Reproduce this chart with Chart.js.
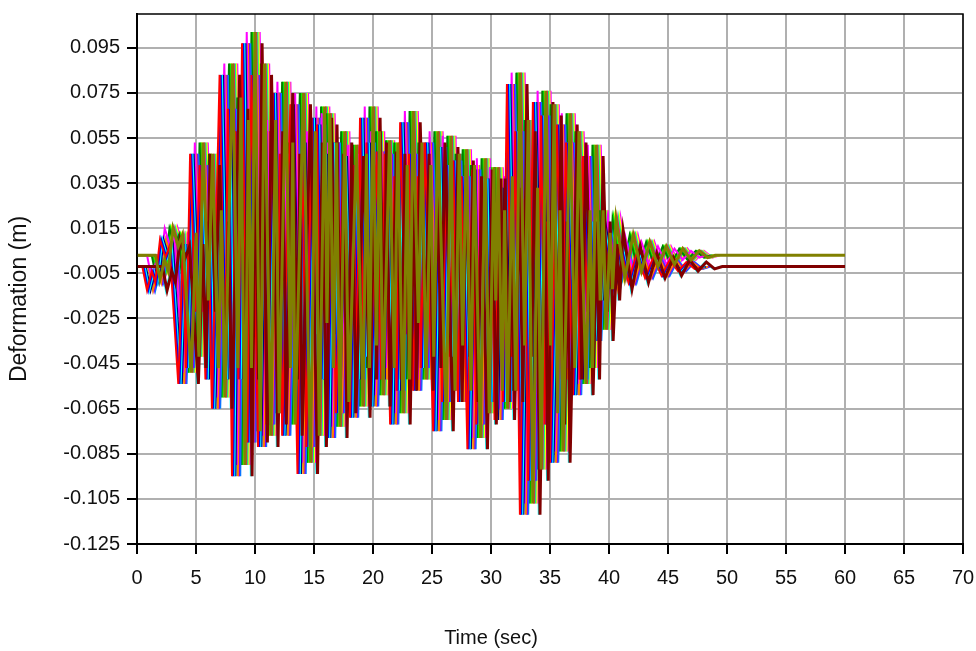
<!DOCTYPE html>
<html>
<head>
<meta charset="utf-8">
<title>Deformation time history</title>
<script src="https://cdn.jsdelivr.net/npm/chart.js@4.4.1/dist/chart.umd.min.js"></script>
<style>
  html, body { margin: 0; padding: 0; background: #ffffff; }
  canvas { display: block; }
</style>
</head>
<body>
<canvas id="chart" width="976" height="651"></canvas>
<script>
// Axis tick values
const timeTicks = [0, 5, 10, 15, 20, 25, 30, 35, 40, 45, 50, 55, 60, 65, 70];
const deformationTicks = [-0.125, -0.105, -0.085, -0.065, -0.045, -0.025, -0.005, 0.015, 0.035, 0.055, 0.075, 0.095];

// Recorded response of the first element: turning points (time in s, deformation in m)
const responseTime = [
  0, 0.45, 0.85, 1.25, 1.55, 1.95, 2.4, 2.75, 3.5, 3.9,
  4.15, 4.5, 4.95, 5.3, 5.8, 6.05, 6.35, 7.0, 7.45, 7.7,
  8.05, 8.35, 8.6, 8.9, 9.35, 9.7, 10.25, 10.65, 10.95, 11.5,
  11.9, 12.1, 12.3, 13.0, 13.6, 14.0, 14.35, 14.8, 15.0, 15.25,
  15.55, 15.8, 16.1, 16.5, 16.85, 17.5, 18.05, 18.35, 18.6, 18.9,
  19.2, 19.45, 19.75, 20.3, 20.7, 21.0, 21.45, 21.8, 22.0, 22.3,
  22.75, 23.05, 23.4, 23.8, 24.05, 24.4, 25.1, 25.5, 25.85, 26.2,
  26.5, 26.8, 27.2, 27.5, 28.0, 28.4, 28.75, 29.15, 29.3, 29.5,
  29.85, 30.05, 30.3, 30.7, 31.0, 31.35, 31.75, 32.05, 32.45, 32.85,
  33.15, 33.55, 33.95, 34.25, 34.55, 34.75, 35.0, 35.6, 36.0, 36.35,
  36.95, 37.3, 37.5, 37.8, 38.15, 38.4, 38.65, 39.0, 39.2, 39.5,
  40.25, 40.95, 41.65, 42.35, 43.05, 43.75, 44.45, 45.15, 45.85, 46.55,
  47.25, 47.9
];
const responseValue = [
  0, 0, -0.0105, -0.002, -0.007, 0.012, 0.004, 0.009, -0.052, 0.010,
  -0.045, 0.050, -0.020, 0.045, -0.050, 0.020, -0.063, 0.085, -0.050, 0.070,
  -0.093, 0.060, -0.050, 0.099, -0.078, 0.085, -0.080, 0.060, -0.070, 0.077,
  -0.050, 0.050, -0.075, 0.072, -0.092, 0.055, -0.080, 0.066, -0.030, 0.063,
  -0.050, 0.050, -0.076, 0.055, -0.065, 0.049, -0.067, 0.045, -0.050, 0.066,
  -0.040, 0.055, -0.062, 0.051, -0.050, 0.050, -0.070, 0.040, -0.055, 0.064,
  -0.030, 0.050, -0.055, 0.040, -0.045, 0.055, -0.073, 0.053, -0.060, 0.045,
  -0.040, 0.047, -0.060, 0.040, -0.081, 0.043, -0.070, 0.039, -0.020, 0.039,
  -0.060, 0.020, -0.068, 0.035, -0.060, 0.081, -0.040, 0.060, -0.110, 0.030,
  -0.095, 0.073, -0.040, 0.067, -0.070, 0.020, -0.087, 0.063, -0.050, 0.055,
  -0.057, 0.020, -0.050, 0.049, -0.020, 0.020, -0.033, 0.010, -0.015, 0.016,
  -0.010, 0.009, -0.007, 0.006, -0.005, 0.004, -0.004, 0.003, -0.002, 0.002,
  -0.001, 0
];

// Elements: arrival lag (s), static offset (m), record end (s, null = end of response), colour
const elementLag    = [0, 0.1, 0.2, 0.3, 0.4, 0.5, 0.6, 0.7, 0.8, 0.9, 1.0, 1.1, 1.2, 1.3, 1.4, 1.5, 1.6, 1.7];
const elementOffset = [-0.002, -0.002, -0.002, -0.002, 0.003, -0.002, -0.002, -0.002, 0.003, 0.003, 0.003, 0.003, 0.003, 0.003, 0.003, 0.003, -0.002, -0.002];
const elementEnd    = [null, null, null, null, null, null, null, null, null, null, null, 60, null, null, null, null, null, 60];
const elementColor  = ['#FF0000', '#0000FF', '#00FFFF', '#000080', '#FF00FF', '#FF8000', '#8000FF', '#0080FF', '#008000',
                       '#00FF00', '#FFFF00', '#808000', '#FF0080', '#00FF80', '#FFFF00', '#FF00FF', '#00FFFF', '#800000'];

const datasets = elementLag.map((lag, i) => {
  const off = elementOffset[i];
  const pts = [{ x: 0, y: off }];
  responseTime.forEach((t, k) => pts.push({ x: t + lag, y: responseValue[k] + off }));
  if (elementEnd[i] !== null) pts.push({ x: elementEnd[i], y: off });
  const heavy = elementEnd[i] !== null;
  return {
    label: 'Element ' + (i + 1),
    data: pts,
    borderColor: elementColor[i],
    backgroundColor: elementColor[i],
    borderWidth: heavy ? 3 : 2,
    pointRadius: 0,
    tension: 0,
    fill: false,
    order: elementColor[i] === '#808000' ? 0 : (elementColor[i] === '#800000' ? 1 : 2 + i)
  };
});

const FONT = 'Liberation Sans, Arial, sans-serif';

// Plot frame and axis titles
const framePlugin = {
  id: 'frame',
  afterDraw(chart) {
    const { ctx, chartArea: a } = chart;
    ctx.save();
    ctx.strokeStyle = '#000000';
    ctx.lineWidth = 1.5;
    ctx.strokeRect(a.left, a.top, a.right - a.left, a.bottom - a.top);
    ctx.fillStyle = '#111111';
    ctx.textAlign = 'center';
    ctx.textBaseline = 'middle';
    ctx.font = '20px ' + FONT;
    ctx.fillText('Time (sec)', 491, 638);
    ctx.translate(20, 299);
    ctx.rotate(-Math.PI / 2);
    ctx.font = '23px ' + FONT;
    ctx.fillText('Deformation (m)', 0, 0);
    ctx.restore();
  }
};

new Chart(document.getElementById('chart'), {
  type: 'line',
  data: { datasets },
  options: {
    responsive: false,
    animation: false,
    parsing: false,
    normalized: true,
    events: [],
    layout: { padding: { left: 0, right: 13, top: 14, bottom: 0 } },
    plugins: { legend: { display: false }, tooltip: { enabled: false }, title: { display: false } },
    scales: {
      x: {
        type: 'linear',
        min: 0,
        max: 70,
        afterBuildTicks: s => { s.ticks = timeTicks.map(v => ({ value: v })); },
        afterFit: s => { s.height = 107; s.paddingLeft = 0; s.paddingRight = 0; },
        ticks: { color: '#111111', font: { family: FONT, size: 20 }, padding: 12, maxRotation: 0, autoSkip: false,
                 callback: v => String(v) },
        grid: { color: '#b0b0b0', lineWidth: 2, tickColor: '#000000', tickLength: 10, drawTicks: true },
        border: { display: true, color: '#000000', width: 2 }
      },
      y: {
        type: 'linear',
        min: -0.125,
        max: 0.11,
        afterBuildTicks: s => { s.ticks = deformationTicks.map(v => ({ value: v })); },
        afterFit: s => { s.width = 137; s.paddingTop = 0; s.paddingBottom = 0; },
        ticks: { color: '#111111', font: { family: FONT, size: 20 }, padding: 7, autoSkip: false,
                 callback: v => Number(v).toFixed(3) },
        grid: { color: '#b0b0b0', lineWidth: 2, tickColor: '#000000', tickLength: 10, drawTicks: true },
        border: { display: true, color: '#000000', width: 2 }
      }
    }
  },
  plugins: [framePlugin]
});
</script>
</body>
</html>
